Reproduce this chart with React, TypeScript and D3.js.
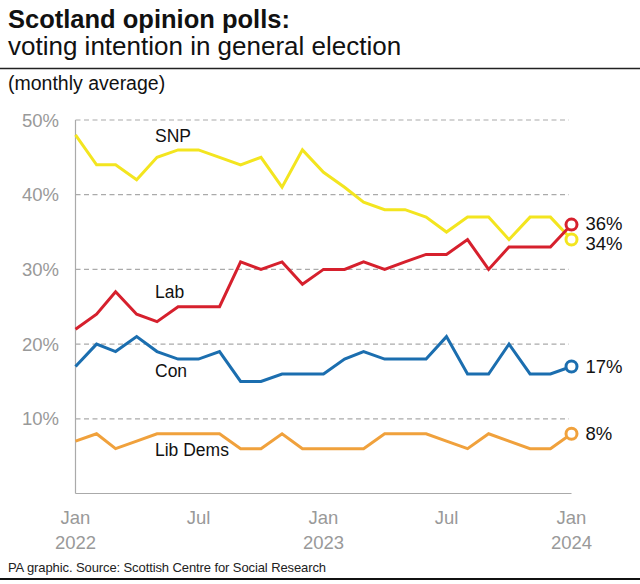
import React from "react";
import * as d3 from "d3";

const months = d3.range(25).map((i) => new Date(2022, i, 1));
const snp = [48,44,44,42,45,46,46,45,44,45,41,46,43,41,39,38,38,37,35,37,37,34,37,37,34];
const lab = [22,24,27,24,23,25,25,25,31,30,31,28,30,30,31,30,31,32,32,34,30,33,33,33,36];
const con = [17,20,19,21,19,18,18,19,15,15,16,16,16,18,19,18,18,18,21,16,16,20,16,16,17];
const libDems = [7,8,6,7,8,8,8,8,6,6,8,6,6,6,6,8,8,8,7,6,8,7,6,6,8];
const yTicks = [10, 20, 30, 40, 50];
const xTicks = [
  { date: new Date(2022, 0, 1), l1: "Jan", l2: "2022" },
  { date: new Date(2022, 6, 1), l1: "Jul", l2: "" },
  { date: new Date(2023, 0, 1), l1: "Jan", l2: "2023" },
  { date: new Date(2023, 6, 1), l1: "Jul", l2: "" },
  { date: new Date(2024, 0, 1), l1: "Jan", l2: "2024" },
];

const series = [
  { name: "SNP", values: snp, color: "#f3e51f", lx: 155, ly: 142, endDy: 4 },
  { name: "Lab", values: lab, color: "#d6202d", lx: 155, ly: 298, endDy: -1 },
  { name: "Con", values: con, color: "#1b6eaf", lx: 155, ly: 377, endDy: 0 },
  { name: "Lib Dems", values: libDems, color: "#f0a13c", lx: 155, ly: 456, endDy: 0 },
];

const FONT = "'Liberation Sans', Arial, sans-serif";

export default function App() {
  const W = 640, H = 584;
  const x = d3.scaleTime().domain([months[0], months[24]]).range([75.5, 571.5]);
  const y = d3.scaleLinear().domain([0, 50]).range([493.5, 120]);
  const line = d3.line<number>()
    .x((_, i) => x(months[i]))
    .y((d) => y(d));

  return (
    <svg width={W} height={H} style={{ position: "absolute", left: 0, top: 0, background: "#fff" }} fontFamily={FONT}>
      <rect width={W} height={H} fill="#fff" />
      <text x={8} y={28} fontSize={25.5} fontWeight={700} fill="#111">Scotland opinion polls:</text>
      <text x={8} y={55} fontSize={26} fill="#111">voting intention in general election</text>
      <line x1={0} x2={W} y1={68.5} y2={68.5} stroke="#222" strokeWidth={1.5} />
      <text x={8} y={90} fontSize={19.5} fill="#111">(monthly average)</text>

      {yTicks.map((t) => (
        <g key={t}>
          <line x1={x(months[0])} x2={569} y1={y(t)} y2={y(t)} stroke="#aaa" strokeWidth={1.2} strokeDasharray="5,3.5" />
          <text x={59} y={y(t) + 6.5} fontSize={18.5} fill="#999" textAnchor="end">{t}%</text>
        </g>
      ))}
      <line x1={x(months[0])} x2={x(months[0])} y1={y(50)} y2={y(0)} stroke="#aaa" strokeWidth={1.2} />
      <line x1={x(months[0])} x2={x(months[24])} y1={y(0)} y2={y(0)} stroke="#aaa" strokeWidth={1.2} />

      {xTicks.map((t, i) => (
        <g key={i}>
          <text x={x(t.date)} y={524} fontSize={18.5} fill="#999" textAnchor="middle">{t.l1}</text>
          {t.l2 && <text x={x(t.date)} y={549} fontSize={18.5} fill="#999" textAnchor="middle">{t.l2}</text>}
        </g>
      ))}

      {series.map((s) => (
        <path key={s.name} d={line(s.values) || ""} fill="none" stroke={s.color} strokeWidth={3} strokeLinejoin="miter" />
      ))}
      {series.map((s) => {
        const last = s.values[s.values.length - 1];
        const cx = x(months[24]);
        const cy = y(last);
        return (
          <g key={s.name + "end"}>
            <circle cx={cx} cy={cy} r={5.5} fill="#fff" stroke={s.color} strokeWidth={3} />
            <text x={cx + 14} y={cy + 6.5 + s.endDy} fontSize={18.5} fontWeight={500} fill="#111">{last}%</text>
            <text x={s.lx} y={s.ly} fontSize={17.5} fill="#111">{s.name}</text>
          </g>
        );
      })}

      <text x={8} y={572} fontSize={13} fill="#222" letterSpacing={-0.1}>PA graphic. Source: Scottish Centre for Social Research</text>
      <line x1={0} x2={W} y1={579} y2={579} stroke="#111" strokeWidth={2} />
    </svg>
  );
}
